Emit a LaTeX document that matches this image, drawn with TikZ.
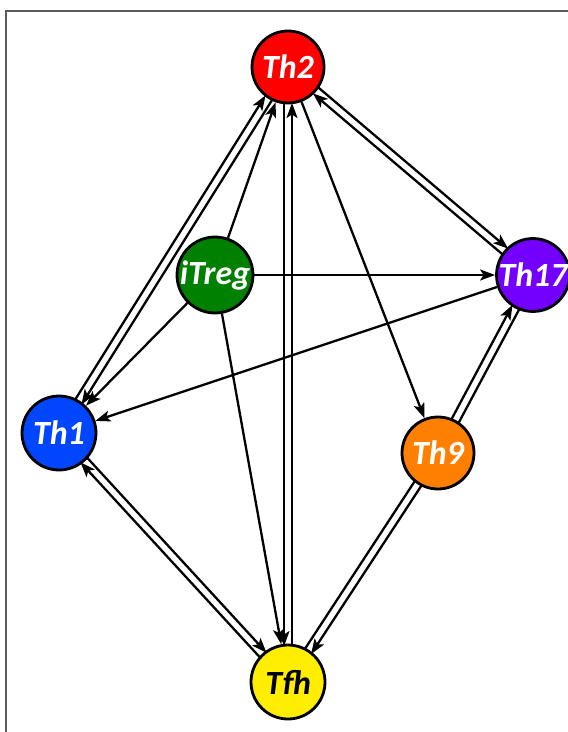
\documentclass[tikz,border=0pt]{standalone}
\usepackage{fontspec}
\setmainfont{Carlito}
\usetikzlibrary{arrows.meta,calc,backgrounds}
\definecolor{cTh2}{RGB}{255,0,0}
\definecolor{cTreg}{RGB}{0,128,0}
\definecolor{cTh17}{RGB}{115,0,255}
\definecolor{cTh1}{RGB}{0,70,255}
\definecolor{cTh9}{RGB}{255,128,0}
\definecolor{cTfh}{RGB}{255,238,0}
\definecolor{frameg}{RGB}{90,90,90}
\tikzset{
  cell/.style={circle,draw=black,line width=2.8bp,minimum size=72bp,inner sep=0pt,
    font=\fontsize{34}{34}\selectfont\bfseries\itshape,text=white},
  arr/.style={line width=2.3bp,-{Stealth[length=15bp,width=11bp,inset=3.5bp]}},
  plain/.style={line width=2.3bp},
  pairsh/.style={shorten >=36bp,shorten <=36bp},
}
\begin{document}
\begin{tikzpicture}[x=1bp,y=-1bp]
\useasboundingbox (0,0) rectangle (568,732);
\draw[frameg,line width=1.4bp] (6,732) -- (6,11) -- (568,11);

\node[cell,fill=cTh2]  (Th2)  at (288,67)  {Th2};
\node[cell,fill=cTreg,minimum size=70bp] (iTreg) at (215,275) {iTreg};
\node[cell,fill=cTh17] (Th17) at (533,275) {Th17};
\node[cell,fill=cTh1,minimum size=74bp]  (Th1)  at (59,433)  {Th1};
\node[cell,fill=cTh9]  (Th9)  at (438,453) {Th9};
\node[cell,fill=cTfh,text=black,minimum size=74bp] (Tfh) at (288,682) {Tfh};

\begin{pgfonlayer}{background}
% paired (reciprocal) connectors
\draw[arr,pairsh] ($(Th1)!4bp!90:(Th2)$) -- ($(Th2)!4bp!-90:(Th1)$);
\draw[arr,pairsh] ($(Th2)!4bp!90:(Th1)$) -- ($(Th1)!4bp!-90:(Th2)$);

\draw[arr,pairsh] ($(Th2)!4bp!-90:(Tfh)$) -- ($(Tfh)!4bp!90:(Th2)$);
\draw[arr,pairsh] ($(Tfh)!4bp!-90:(Th2)$) -- ($(Th2)!4bp!90:(Tfh)$);

\draw[arr,pairsh] ($(Th2)!4bp!90:(Th17)$) -- ($(Th17)!4bp!-90:(Th2)$);
\draw[arr,pairsh] ($(Th17)!4bp!90:(Th2)$) -- ($(Th2)!4bp!-90:(Th17)$);

\draw[arr,pairsh] ($(Th1)!4bp!90:(Tfh)$) -- ($(Tfh)!4bp!-90:(Th1)$);
\draw[arr,pairsh] ($(Tfh)!4bp!90:(Th1)$) -- ($(Th1)!4bp!-90:(Tfh)$);

\draw[arr,pairsh] ($(Th9)!4bp!90:(Th17)$) -- ($(Th17)!4bp!-90:(Th9)$);
\draw[plain,pairsh] ($(Th17)!4bp!90:(Th9)$) -- ($(Th9)!4bp!-90:(Th17)$);

\draw[arr,pairsh] ($(Th9)!4bp!90:(Tfh)$) -- ($(Tfh)!4bp!-90:(Th9)$);
\draw[plain,pairsh] ($(Tfh)!4bp!90:(Th9)$) -- ($(Th9)!4bp!-90:(Tfh)$);

% single connectors
\draw[arr] (iTreg) -- (Th2);
\draw[arr] (iTreg) -- (Th17);
\draw[arr] (iTreg) -- (Th1);
\draw[arr] (iTreg) -- (Tfh);
\draw[arr] (Th17) -- (Th1);
\draw[arr] (Th2) -- (Th9);
\end{pgfonlayer}
\end{tikzpicture}
\end{document}
